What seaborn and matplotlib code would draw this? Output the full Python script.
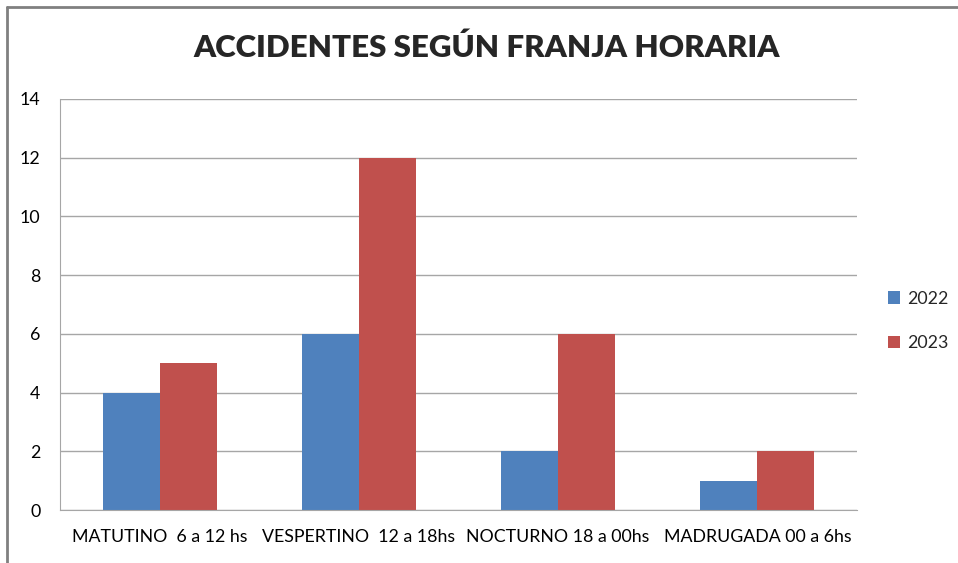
import matplotlib.pyplot as plt
import pandas as pd
import seaborn as sns
from matplotlib.lines import Line2D

# Data
franjas = ["MATUTINO  6 a 12 hs", "VESPERTINO  12 a 18hs", "NOCTURNO 18 a 00hs", "MADRUGADA 00 a 6hs"]
anios = ["2022", "2023"]
valores_2022 = [4, 6, 2, 1]
valores_2023 = [5, 12, 6, 2]

df = pd.DataFrame({
    "franja": franjas * 2,
    "anio": [anios[0]] * 4 + [anios[1]] * 4,
    "valor": valores_2022 + valores_2023,
})

sns.set_style("white")
plt.rcParams["font.family"] = ["Lato", "DejaVu Sans"]

fig = plt.figure(figsize=(9.58, 5.63), dpi=100)
ax = fig.add_axes([0.0626, 0.0941, 0.832, 0.7301])

sns.barplot(data=df, x="franja", y="valor", hue="anio", order=franjas,
            palette=["#4F81BD", "#C0504D"], width=0.572, saturation=1,
            linewidth=0, ax=ax, legend=True)

ax.set_ylim(0, 14)
ax.set_yticks(range(0, 15, 2))
ax.set_xlim(-0.5, 3.5)
ax.grid(axis="y", color="#A6A6A6", linewidth=1)
ax.set_axisbelow(True)
for s in ["top", "right"]:
    ax.spines[s].set_visible(False)
ax.spines["left"].set_color("#A6A6A6")
ax.spines["bottom"].set_color("#A6A6A6")
ax.tick_params(axis="y", length=0, pad=14, labelsize=12.8, colors="#000000")
ax.tick_params(axis="x", length=0, pad=14, labelsize=12.8, colors="#000000")
ax.set_xlabel("")
ax.set_ylabel("")

fig.text(0.508, 0.915, "ACCIDENTES SEGÚN FRANJA HORARIA", ha="center", va="center",
         fontsize=22.5, fontweight="heavy")

ax.legend(loc="center left", bbox_to_anchor=(0.91, 0.43), bbox_transform=fig.transFigure,
          frameon=False, fontsize=12.8, handlelength=0.7, handleheight=0.7,
          handletextpad=0.4, labelspacing=1.6)

# Chart frame
fig.add_artist(Line2D([0.0073, 0.0073], [0.0, 0.9876], color="#808080", linewidth=2,
                      transform=fig.transFigure))
fig.add_artist(Line2D([0.0073, 1.0], [0.9876, 0.9876], color="#808080", linewidth=2,
                      transform=fig.transFigure))

fig.savefig("out.png", dpi=100)
